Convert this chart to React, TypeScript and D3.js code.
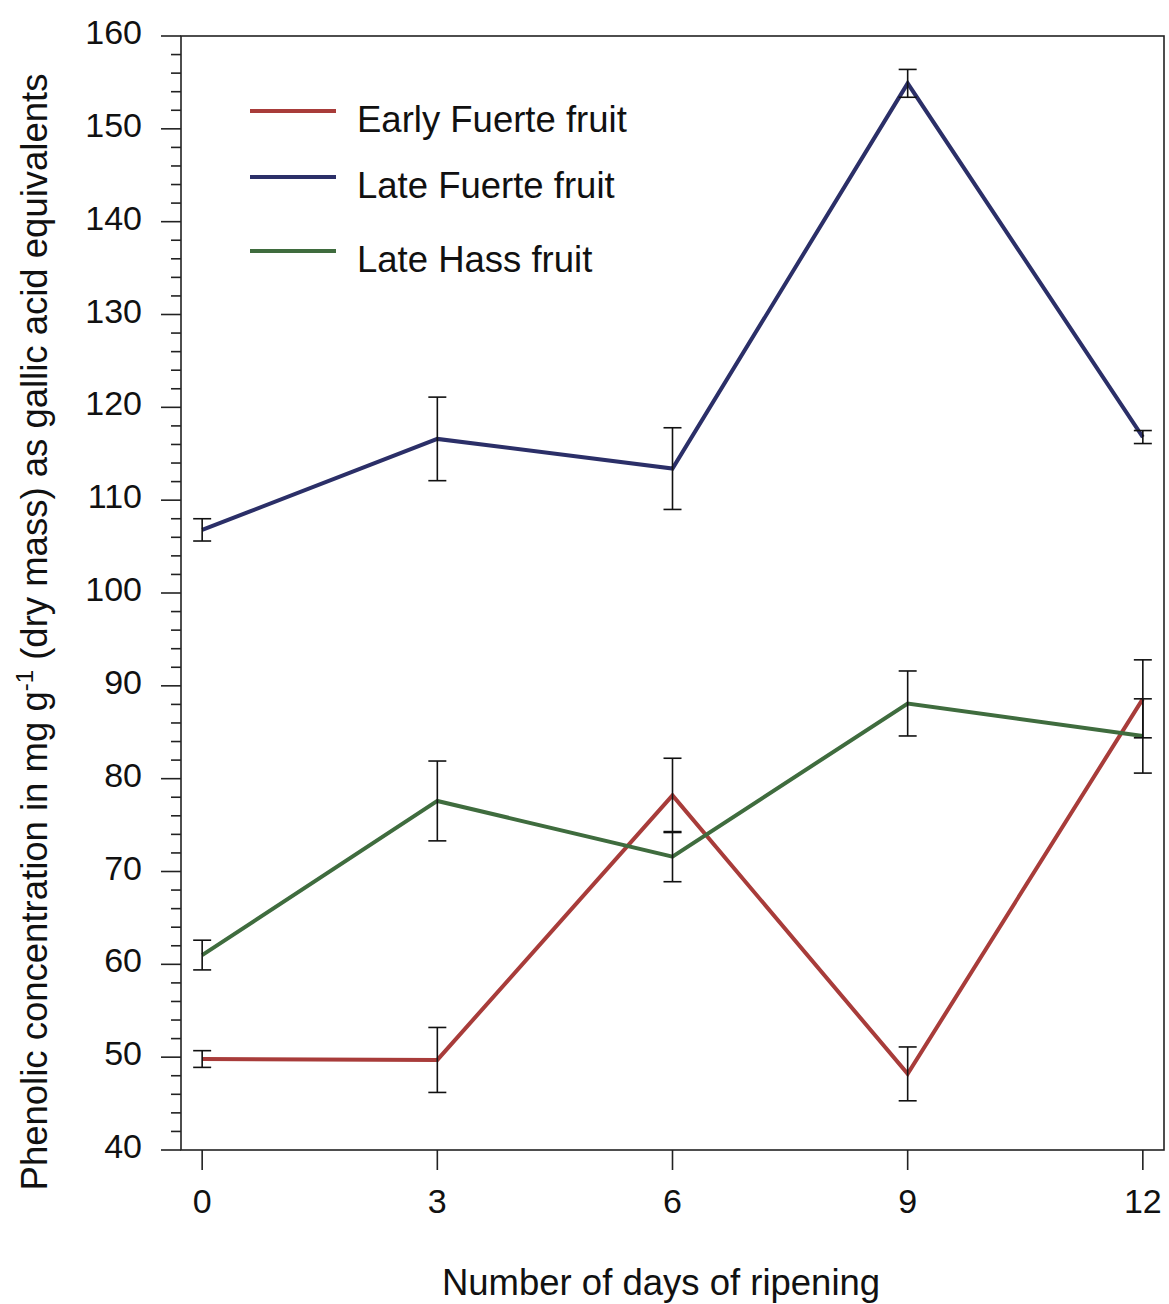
import React from "react";
import * as d3 from "d3";

// Days of ripening (x) and phenolic concentration per series
const days = [0, 3, 6, 9, 12];
const earlyFuerte = [49.8, 49.7, 78.2, 48.2, 88.6];
const earlyFuerteErr = [0.9, 3.5, 4.0, 2.9, 4.2];
const lateFuerte = [106.8, 116.6, 113.4, 154.9, 116.8];
const lateFuerteErr = [1.2, 4.5, 4.4, 1.5, 0.7];
const lateHass = [61.0, 77.6, 71.6, 88.1, 84.6];
const lateHassErr = [1.6, 4.3, 2.7, 3.5, 4.0];

const seriesNames = ["Early Fuerte fruit", "Late Fuerte fruit", "Late Hass fruit"];
const seriesColors = ["#a83c3a", "#2b2f68", "#3f6c3e"];

const yMajorTicks = [40, 50, 60, 70, 80, 90, 100, 110, 120, 130, 140, 150, 160];
const yMinorTicks = d3.range(40, 161, 2).filter((v) => v % 10 !== 0);
const xTicks = [0, 3, 6, 9, 12];

const W = 1169;
const H = 1304;
const plot = { left: 181, right: 1164, top: 36, bottom: 1150 };

export default function App() {
  const x = d3.scaleLinear().domain([-0.27, 12.27]).range([plot.left, plot.right]);
  const y = d3.scaleLinear().domain([40, 160]).range([plot.bottom, plot.top]);

  const line = d3
    .line<[number, number]>()
    .x((d) => x(d[0]))
    .y((d) => y(d[1]));

  const series = [
    { values: earlyFuerte, errs: earlyFuerteErr },
    { values: lateFuerte, errs: lateFuerteErr },
    { values: lateHass, errs: lateHassErr },
  ];

  const font = "'Liberation Sans', Arial, sans-serif";
  const cap = 9;
  const legendLineY = [111, 177, 251];
  const legendTextY = [132, 198, 272];

  return (
    <svg
      width={W}
      height={H}
      style={{ position: "absolute", left: 0, top: 0, background: "#fff" }}
      fontFamily={font}
    >
      {/* frame */}
      <rect
        x={plot.left}
        y={plot.top}
        width={plot.right - plot.left}
        height={plot.bottom - plot.top}
        fill="none"
        stroke="#222"
        strokeWidth={1.6}
      />
      {/* y ticks */}
      {yMajorTicks.map((t) => (
        <g key={"ym" + t}>
          <line x1={plot.left - 20} x2={plot.left} y1={y(t)} y2={y(t)} stroke="#222" strokeWidth={1.6} />
          <text x={142} y={y(t) + 8} textAnchor="end" fontSize={34} fill="#111">
            {t}
          </text>
        </g>
      ))}
      {yMinorTicks.map((t) => (
        <line key={"yn" + t} x1={plot.left - 10} x2={plot.left} y1={y(t)} y2={y(t)} stroke="#222" strokeWidth={1.6} />
      ))}
      {/* x ticks */}
      {xTicks.map((t) => (
        <g key={"x" + t}>
          <line x1={x(t)} x2={x(t)} y1={plot.bottom} y2={plot.bottom + 20} stroke="#222" strokeWidth={1.6} />
          <text x={x(t)} y={1213} textAnchor="middle" fontSize={34} fill="#111">
            {t}
          </text>
        </g>
      ))}

      {/* series lines */}
      {series.map((s, i) => (
        <path
          key={"l" + i}
          d={line(days.map((d, j) => [d, s.values[j]] as [number, number])) || ""}
          fill="none"
          stroke={seriesColors[i]}
          strokeWidth={4}
          strokeLinejoin="miter"
        />
      ))}
      {/* error bars */}
      {series.map((s, i) =>
        days.map((d, j) => {
          const cx = x(d);
          const y1 = y(s.values[j] + s.errs[j]);
          const y2 = y(s.values[j] - s.errs[j]);
          return (
            <g key={"e" + i + "-" + j} stroke="#111" strokeWidth={1.6}>
              <line x1={cx} x2={cx} y1={y1} y2={y2} />
              <line x1={cx - cap} x2={cx + cap} y1={y1} y2={y1} />
              <line x1={cx - cap} x2={cx + cap} y1={y2} y2={y2} />
            </g>
          );
        })
      )}

      {/* legend */}
      {seriesNames.map((name, i) => (
        <g key={"lg" + i}>
          <line x1={250} x2={336} y1={legendLineY[i]} y2={legendLineY[i]} stroke={seriesColors[i]} strokeWidth={4} />
          <text x={357} y={legendTextY[i]} fontSize={36.5} fill="#111">
            {name}
          </text>
        </g>
      ))}

      {/* axis titles */}
      <text x={661} y={1295} textAnchor="middle" fontSize={36.5} fill="#111">
        Number of days of ripening
      </text>
      <text
        transform={`translate(47, 632) rotate(-90)`}
        textAnchor="middle"
        fontSize={36.5}
        fill="#111"
      >
        Phenolic concentration in mg g
        <tspan dy={-14} fontSize={24}>-1</tspan>
        <tspan dy={14}> (dry mass) as gallic acid equivalents</tspan>
      </text>
    </svg>
  );
}
